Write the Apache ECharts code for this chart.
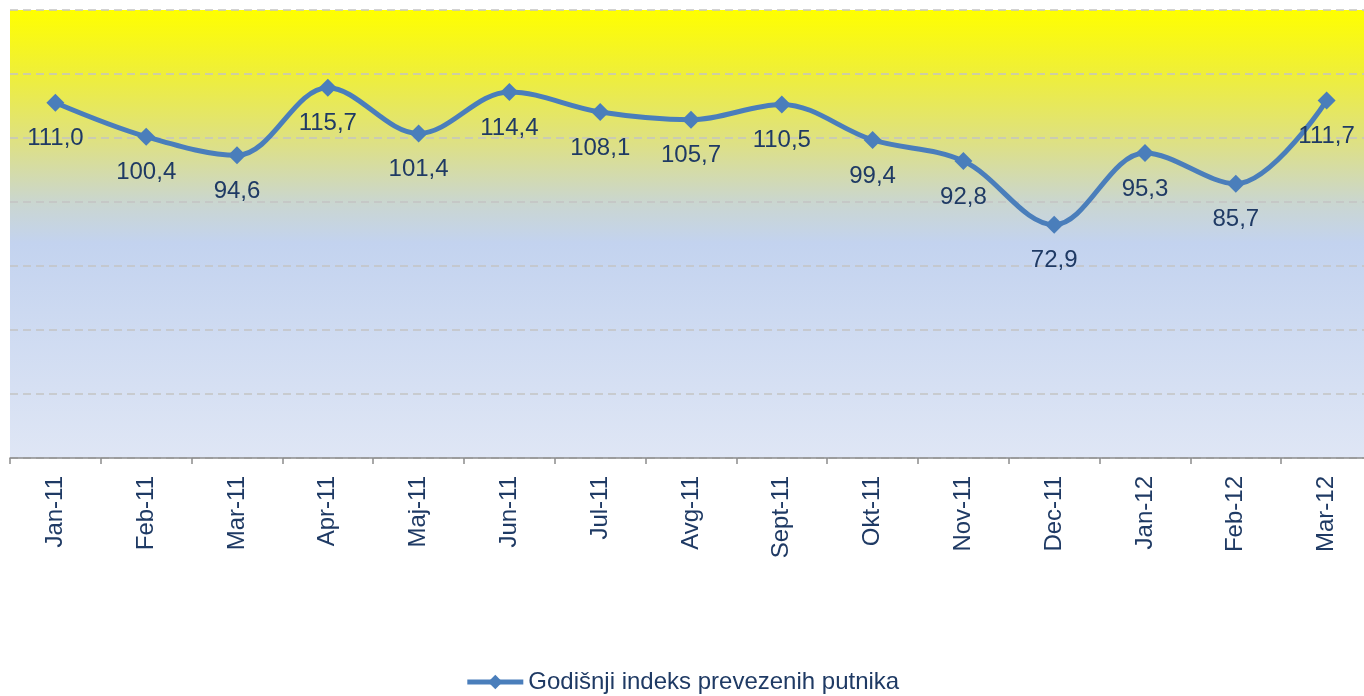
<!DOCTYPE html>
<html>
<head>
<meta charset="utf-8">
<title>Godišnji indeks prevezenih putnika</title>
<script src="https://cdn.jsdelivr.net/npm/echarts@6/dist/echarts.min.js"></script>
<style>
    html, body { margin: 0; padding: 0; background: #fff; }
    #line_index { width: 1364px; height: 696px; }
</style>
</head>
<body>
<div id="line_index"></div>
<script>

// Chart data
// ------------------------------

var months = ['Jan-11', 'Feb-11', 'Mar-11', 'Apr-11', 'Maj-11', 'Jun-11', 'Jul-11', 'Avg-11',
    'Sept-11', 'Okt-11', 'Nov-11', 'Dec-11', 'Jan-12', 'Feb-12', 'Mar-12'];
var indexValues = [111.0, 100.4, 94.6, 115.7, 101.4, 114.4, 108.1, 105.7,
    110.5, 99.4, 92.8, 72.9, 95.3, 85.7, 111.7];
var seriesName = 'Godišnji indeks prevezenih putnika';


// Setup chart
// ------------------------------

var textColor = '#1f3a64';
var lineColor = '#4a7ebb';

var line_index_element = document.getElementById('line_index');
var line_index = echarts.init(line_index_element);

line_index.setOption({

    // Global text styles
    textStyle: {
        fontFamily: 'Liberation Sans, Arial, sans-serif'
    },

    animation: false,

    // Setup grid, plot area runs a bit past the right edge
    grid: {
        show: true,
        left: 10,
        width: 1362,
        top: 10,
        height: 448,
        outerBoundsMode: 'none',
        borderWidth: 0,
        backgroundColor: new echarts.graphic.LinearGradient(0, 0, 0, 1, [
            { offset: 0, color: '#ffff00' },
            { offset: 0.14, color: '#efef38' },
            { offset: 0.3, color: '#dde086' },
            { offset: 0.43, color: '#cad6d0' },
            { offset: 0.52, color: '#c3d3ef' },
            { offset: 1, color: '#dfe6f5' }
        ])
    },

    // Add legend
    legend: {
        data: [seriesName],
        top: 665,
        left: 'center',
        itemWidth: 56,
        itemHeight: 18,
        itemGap: 4,
        lineStyle: {
            width: 5
        },
        textStyle: {
            color: textColor,
            fontSize: 24
        }
    },

    // Horizontal axis
    xAxis: [{
        type: 'category',
        boundaryGap: true,
        data: months,
        axisLine: {
            lineStyle: { color: '#8c8c8c', width: 1.5 }
        },
        axisTick: {
            show: true,
            length: 6,
            lineStyle: { color: '#8c8c8c', width: 1.5 }
        },
        axisLabel: {
            rotate: 90,
            margin: 18,
            color: textColor,
            fontSize: 24,
            interval: 0
        },
        splitLine: { show: false }
    }],

    // Vertical axis
    yAxis: [{
        type: 'value',
        min: 0,
        max: 140,
        interval: 20,
        axisLabel: { show: false },
        axisLine: { show: false },
        axisTick: { show: false },
        splitLine: {
            show: true,
            lineStyle: {
                color: '#c4c4c4',
                type: [8, 5],
                width: 1.5
            }
        }
    }],

    // Add series
    series: [{
        name: seriesName,
        type: 'line',
        data: indexValues,
        smooth: 0.35,
        symbol: 'diamond',
        symbolSize: 18,
        lineStyle: {
            color: lineColor,
            width: 5
        },
        itemStyle: {
            color: lineColor
        },
        label: {
            show: true,
            position: 'bottom',
            distance: 15,
            color: textColor,
            fontSize: 24,
            formatter: function (p) {
                return p.value.toFixed(1).replace('.', ',');
            }
        }
    }]
});

</script>
</body>
</html>
